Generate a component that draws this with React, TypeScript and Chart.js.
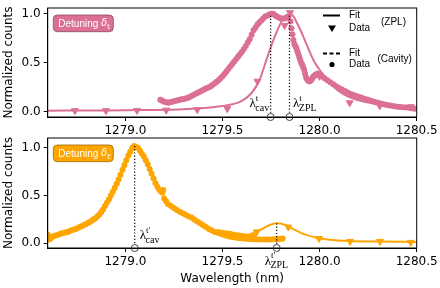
import React, { useEffect, useRef } from "react";
import { Chart, registerables } from "chart.js";
Chart.register(...registerables);

const PINK = "#DB7093";
const ORANGE = "#FFA500";

const xTicks = [1279.0, 1279.5, 1280.0, 1280.5];
const yTicks = [0, 0.5, 1.0];
const X_MIN = 1278.6;
const X_MAX = 1280.5;

// ---------- Top panel (detuning δt) ----------
const topZplX = [1278.74, 1278.9, 1279.06, 1279.21, 1279.37, 1279.525, 1279.68, 1279.82, 1279.848, 1280.0, 1280.155, 1280.31, 1280.47];
const topZplY = [0.01, 0.01, 0.012, 0.015, 0.02, 0.03, 0.31, 0.88, 1.01, 0.36, 0.09, 0.06, 0.05];

const topFitX = [1278.6, 1278.9, 1279.1, 1279.3, 1279.45, 1279.55, 1279.6, 1279.65, 1279.69, 1279.73, 1279.77, 1279.81, 1279.85, 1279.89, 1279.93, 1279.97, 1280.01, 1280.06, 1280.12, 1280.2, 1280.3, 1280.4, 1280.5];
const topFitY = [0.01, 0.012, 0.016, 0.025, 0.045, 0.075, 0.11, 0.19, 0.32, 0.55, 0.77, 0.94, 1.0, 0.88, 0.7, 0.52, 0.4, 0.28, 0.18, 0.115, 0.075, 0.05, 0.035];

const topCavX = [
  1279.18, 1279.19, 1279.2, 1279.21, 1279.22, 1279.23, 1279.24, 1279.25, 1279.26, 1279.27, 1279.28, 1279.29, 1279.3, 1279.31, 1279.32, 1279.33, 1279.34, 1279.35, 1279.36, 1279.37, 1279.38, 1279.39, 1279.4, 1279.41, 1279.42, 1279.43, 1279.44, 1279.45, 1279.46, 1279.47, 1279.48, 1279.49, 1279.5, 1279.51, 1279.52, 1279.53, 1279.54, 1279.55, 1279.56, 1279.57, 1279.58, 1279.59, 1279.6, 1279.61, 1279.62, 1279.63, 1279.64, 1279.65, 1279.66, 1279.67, 1279.68, 1279.69, 1279.7, 1279.71, 1279.72, 1279.73, 1279.74, 1279.75, 1279.76, 1279.77, 1279.78, 1279.79, 1279.8, 1279.81, 1279.82, 1279.83, 1279.84,
  1279.85, 1279.855, 1279.86, 1279.865, 1279.87, 1279.875, 1279.88, 1279.885, 1279.89, 1279.895, 1279.9, 1279.905, 1279.91, 1279.915, 1279.92, 1279.925, 1279.93, 1279.935, 1279.94, 1279.945, 1279.95, 1279.955, 1279.96, 1279.965, 1279.97, 1279.975, 1279.98, 1279.99,
  1280.0, 1280.01, 1280.025, 1280.04, 1280.055, 1280.07, 1280.085, 1280.1, 1280.115, 1280.13, 1280.145, 1280.16, 1280.175, 1280.19, 1280.205, 1280.22, 1280.235, 1280.25, 1280.265, 1280.28, 1280.295, 1280.31, 1280.325, 1280.34, 1280.355, 1280.37, 1280.385, 1280.4, 1280.415, 1280.43, 1280.445, 1280.46, 1280.475, 1280.49,
];
const topCavY = [
  0.12, 0.11, 0.1, 0.095, 0.09, 0.095, 0.1, 0.105, 0.11, 0.115, 0.12, 0.125, 0.13, 0.135, 0.14, 0.15, 0.16, 0.17, 0.18, 0.19, 0.2, 0.21, 0.22, 0.23, 0.24, 0.25, 0.26, 0.275, 0.29, 0.305, 0.32, 0.34, 0.36, 0.385, 0.41, 0.435, 0.46, 0.485, 0.51, 0.535, 0.56, 0.585, 0.61, 0.64, 0.67, 0.705, 0.74, 0.785, 0.83, 0.86, 0.89, 0.91, 0.93, 0.95, 0.97, 0.98, 0.99, 1.0, 1.0, 0.985, 0.97, 0.96, 0.95, 0.95, 0.95, 0.96, 0.97,
  0.92, 0.85, 0.79, 0.73, 0.69, 0.67, 0.65, 0.62, 0.59, 0.56, 0.53, 0.5, 0.48, 0.455, 0.43, 0.39, 0.35, 0.33, 0.32, 0.31, 0.31, 0.32, 0.33, 0.35, 0.36, 0.37, 0.38, 0.39,
  0.375, 0.36, 0.34, 0.32, 0.3, 0.28, 0.26, 0.24, 0.225, 0.21, 0.195, 0.18, 0.17, 0.16, 0.15, 0.14, 0.13, 0.12, 0.11, 0.1, 0.092, 0.085, 0.078, 0.07, 0.065, 0.06, 0.055, 0.05, 0.048, 0.045, 0.042, 0.04, 0.035, 0.03,
];

// ---------- Bottom panel (detuning δt') ----------
const botZplX = [1279.676, 1279.839, 1279.997, 1280.157, 1280.311, 1280.469];
const botZplY = [0.12, 0.17, 0.05, 0.02, 0.02, 0.01];

const botFitX = [1279.55, 1279.6, 1279.65, 1279.7, 1279.74, 1279.78, 1279.82, 1279.86, 1279.91, 1279.97, 1280.05, 1280.15, 1280.3, 1280.5];
const botFitY = [0.045, 0.065, 0.1, 0.145, 0.19, 0.21, 0.195, 0.155, 0.105, 0.065, 0.038, 0.024, 0.018, 0.014];

const botCavX = [
  1278.6, 1278.603, 1278.607, 1278.615, 1278.625, 1278.635, 1278.645, 1278.655, 1278.665, 1278.675, 1278.685, 1278.695, 1278.705, 1278.715, 1278.725, 1278.735, 1278.745, 1278.755, 1278.765, 1278.775, 1278.785, 1278.795, 1278.805, 1278.815, 1278.825, 1278.835, 1278.845, 1278.855, 1278.865, 1278.875, 1278.885, 1278.895, 1278.905, 1278.915, 1278.925, 1278.935, 1278.945, 1278.955, 1278.965, 1278.975, 1278.985, 1278.995, 1279.005, 1279.015, 1279.025, 1279.035, 1279.045,
  1279.055, 1279.065, 1279.075, 1279.085, 1279.095, 1279.105, 1279.115, 1279.125, 1279.135, 1279.145, 1279.155, 1279.165, 1279.175, 1279.185, 1279.19, 1279.195, 1279.2, 1279.21, 1279.22, 1279.235, 1279.25, 1279.265, 1279.28, 1279.295, 1279.31, 1279.325, 1279.34, 1279.355, 1279.37, 1279.385, 1279.4, 1279.415, 1279.43, 1279.445, 1279.46, 1279.475, 1279.49, 1279.505, 1279.52, 1279.535, 1279.55, 1279.565, 1279.58, 1279.595, 1279.61, 1279.625, 1279.64, 1279.655, 1279.67, 1279.685, 1279.7, 1279.715, 1279.73, 1279.745, 1279.76, 1279.775, 1279.79, 1279.8, 1279.81,
  1279.48, 1279.5, 1279.52, 1279.54, 1279.56, 1279.58, 1279.6, 1279.62, 1279.64, 1279.66,
];
const botCavY = [
  0.09, 0.06, 0.04, 0.05, 0.07, 0.08, 0.085, 0.09, 0.1, 0.105, 0.11, 0.115, 0.12, 0.13, 0.14, 0.145, 0.15, 0.16, 0.17, 0.18, 0.19, 0.2, 0.21, 0.22, 0.235, 0.25, 0.26, 0.28, 0.3, 0.325, 0.355, 0.39, 0.425, 0.46, 0.5, 0.54, 0.58, 0.625, 0.67, 0.72, 0.77, 0.82, 0.87, 0.92, 0.96, 1.0, 1.02,
  1.01, 1.0, 0.97, 0.94, 0.91, 0.87, 0.83, 0.78, 0.73, 0.68, 0.63, 0.59, 0.56, 0.54, 0.53, 0.56, 0.47, 0.44, 0.41, 0.39, 0.37, 0.35, 0.33, 0.315, 0.3, 0.285, 0.27, 0.25, 0.23, 0.21, 0.19, 0.17, 0.15, 0.135, 0.12, 0.11, 0.1, 0.09, 0.08, 0.072, 0.065, 0.06, 0.055, 0.052, 0.05, 0.047, 0.045, 0.043, 0.042, 0.041, 0.04, 0.04, 0.04, 0.041, 0.042, 0.044, 0.046, 0.048, 0.05,
  0.12, 0.11, 0.105, 0.1, 0.09, 0.085, 0.08, 0.075, 0.07, 0.07,
];

// marker wavelengths
const lambdaCavTop = 1279.748;
const lambdaZplTop = 1279.845;
const lambdaCavBot = 1279.048;
const lambdaZplBot = 1279.779;

const pts = (xs: number[], ys: number[]) => xs.map((x, i) => ({ x, y: ys[i] }));

type Marker = { lambda: number; top: number; sup: string; sub: string; place: string };

type PanelCfg = {
  color: string;
  edge: string;
  zplX: number[]; zplY: number[];
  fitX: number[]; fitY: number[];
  cavX: number[]; cavY: number[];
  yMin: number; yMax: number;
  padTop: number; xHeight: number;
  xTitle: boolean;
  boxSup: string;
  markers: Marker[];
  legend: boolean;
};

function drawLambda(ctx: CanvasRenderingContext2D, px: number, a: any, m: Marker) {
  ctx.save();
  ctx.fillStyle = "#000";
  ctx.textAlign = "left";
  ctx.textBaseline = "alphabetic";
  ctx.font = '13px "Liberation Serif"';
  const wl = ctx.measureText("λ").width;
  ctx.font = '10px "Liberation Serif"';
  const wsub = ctx.measureText(m.sub).width;
  ctx.font = '9px "Liberation Serif"';
  const wsup = ctx.measureText(m.sup).width;
  const total = wl + Math.max(wsub, wsup);
  let x0 = 0, b = 0;
  if (m.place === "left") { x0 = px - total - 1; b = a.bottom - 10; }
  else if (m.place === "right") { x0 = px + 3.5; b = a.bottom - 10; }
  else if (m.place === "rightInside") { x0 = px + 5; b = a.bottom - 9; }
  else { x0 = px - total / 2; b = a.bottom + 16.5; }
  ctx.font = '13px "Liberation Serif"';
  ctx.fillText("λ", x0, b);
  ctx.font = '9px "Liberation Serif"';
  ctx.fillText(m.sup, x0 + wl, b - 6.5);
  ctx.font = '10px "Liberation Serif"';
  ctx.fillText(m.sub, x0 + wl - 0.5, b + 3.5);
  ctx.restore();
}

function roundRect(ctx: CanvasRenderingContext2D, x: number, y: number, w: number, h: number, r: number) {
  ctx.beginPath();
  ctx.moveTo(x + r, y);
  ctx.lineTo(x + w - r, y);
  ctx.quadraticCurveTo(x + w, y, x + w, y + r);
  ctx.lineTo(x + w, y + h - r);
  ctx.quadraticCurveTo(x + w, y + h, x + w - r, y + h);
  ctx.lineTo(x + r, y + h);
  ctx.quadraticCurveTo(x, y + h, x, y + h - r);
  ctx.lineTo(x, y + r);
  ctx.quadraticCurveTo(x, y, x + r, y);
  ctx.closePath();
}

function makePlugin(cfg: PanelCfg) {
  return {
    id: "panelDecor",
    afterDraw(chart: any) {
      const { ctx, chartArea: a, scales } = chart;
      const xs = scales.x, ys = scales.y;
      ctx.save();
      ctx.strokeStyle = "#000";
      ctx.lineWidth = 1;
      ctx.strokeRect(a.left, a.top, a.right - a.left, a.bottom - a.top);

      for (const m of cfg.markers) {
        const px = xs.getPixelForValue(m.lambda);
        const pyTop = ys.getPixelForValue(m.top);
        ctx.strokeStyle = "#000";
        ctx.lineWidth = 1.2;
        ctx.setLineDash([1.2, 2]);
        ctx.beginPath();
        ctx.moveTo(px, pyTop);
        ctx.lineTo(px, a.bottom - 3.5);
        ctx.stroke();
        ctx.setLineDash([]);
        ctx.beginPath();
        ctx.arc(px, a.bottom, 3.5, 0, Math.PI * 2);
        ctx.lineWidth = 0.9;
        ctx.strokeStyle = "#333";
        ctx.stroke();
        drawLambda(ctx, px, a, m);
      }

      const bx = a.left + 5.6, by = a.top + 7, bw = 60, bh = 16.7;
      roundRect(ctx, bx, by, bw, bh, 4);
      ctx.fillStyle = cfg.color;
      ctx.fill();
      ctx.strokeStyle = cfg.edge;
      ctx.lineWidth = 0.8;
      ctx.stroke();
      ctx.fillStyle = "#fff";
      ctx.textBaseline = "middle";
      ctx.textAlign = "left";
      ctx.font = '10px "Liberation Sans"';
      const t1 = "Detuning ";
      const tx = bx + 5;
      const ty = by + bh / 2 + 0.5;
      ctx.fillText(t1, tx, ty);
      const w1 = ctx.measureText(t1).width;
      ctx.font = 'italic 10px "DejaVu Sans"';
      ctx.fillText("δ", tx + w1, ty - 0.5);
      const w2 = ctx.measureText("δ").width;
      ctx.font = '7px "DejaVu Sans"';
      ctx.fillText(cfg.boxSup, tx + w1 + w2, ty + 3);

      if (cfg.legend) {
        ctx.fillStyle = "#000";
        ctx.strokeStyle = "#000";
        ctx.font = '10px "Liberation Sans"';
        ctx.textBaseline = "middle";
        ctx.lineWidth = 2;
        ctx.beginPath();
        ctx.moveTo(323, 15.5);
        ctx.lineTo(340, 15.5);
        ctx.stroke();
        ctx.fillText("Fit", 349, 15.5);
        ctx.beginPath();
        ctx.moveTo(328, 25.5);
        ctx.lineTo(336, 25.5);
        ctx.lineTo(332, 32);
        ctx.closePath();
        ctx.fill();
        ctx.fillText("Data", 349, 28.5);
        ctx.fillText("(ZPL)", 381, 22);
        ctx.setLineDash([4, 2.5]);
        ctx.beginPath();
        ctx.moveTo(323, 53.5);
        ctx.lineTo(341, 53.5);
        ctx.stroke();
        ctx.setLineDash([]);
        ctx.fillText("Fit", 349, 53);
        ctx.beginPath();
        ctx.arc(332, 64.5, 2.6, 0, Math.PI * 2);
        ctx.fill();
        ctx.fillText("Data", 349, 64.5);
        ctx.fillText("(Cavity)", 377.5, 59);
      }
      ctx.restore();
    },
  };
}

function buildChart(canvas: HTMLCanvasElement, cfg: PanelCfg) {
  const c = cfg.color;
  return new Chart(canvas, {
    type: "scatter",
    data: {
      datasets: [
        {
          label: "ZPL data",
          data: pts(cfg.zplX, cfg.zplY),
          pointStyle: "triangle",
          pointRotation: 180,
          pointRadius: 4,
          backgroundColor: c,
          borderColor: c,
          borderWidth: 1,
          order: 0,
        } as any,
        {
          label: "ZPL fit",
          data: pts(cfg.fitX, cfg.fitY),
          showLine: true,
          pointRadius: 0,
          borderColor: c,
          backgroundColor: c,
          borderWidth: 2,
          cubicInterpolationMode: "monotone",
          order: 1,
        } as any,
        {
          label: "Cavity data",
          data: pts(cfg.cavX, cfg.cavY),
          pointStyle: "circle",
          pointRadius: 3,
          backgroundColor: c,
          borderColor: c,
          borderWidth: 0,
          order: 2,
        } as any,
      ],
    },
    options: {
      responsive: false,
      animation: false,
      events: [],
      layout: { padding: { left: 0, right: 23.3, top: cfg.padTop, bottom: 0 } },
      plugins: { legend: { display: false }, tooltip: { enabled: false } },
      scales: {
        x: {
          type: "linear",
          min: X_MIN,
          max: X_MAX,
          afterBuildTicks: (s: any) => { s.ticks = xTicks.map((v) => ({ value: v })); },
          afterFit: (s: any) => { s.height = cfg.xHeight; s.paddingLeft = 0; s.paddingRight = 0; },
          ticks: {
            color: "#000",
            font: { size: 12, family: '"DejaVu Sans"' },
            callback: (v: any) => Number(v).toFixed(1),
            maxRotation: 0,
            minRotation: 0,
            autoSkip: false,
            padding: 3,
          },
          grid: { drawOnChartArea: false, color: "#000", tickLength: 4 },
          border: { color: "#000" },
          title: {
            display: cfg.xTitle,
            text: "Wavelength (nm)",
            color: "#000",
            font: { size: 12, family: '"DejaVu Sans"' },
            padding: { top: 0, bottom: 2 },
          },
        },
        y: {
          type: "linear",
          min: cfg.yMin,
          max: cfg.yMax,
          afterBuildTicks: (s: any) => { s.ticks = yTicks.map((v) => ({ value: v })); },
          afterFit: (s: any) => { s.width = 47.7; s.paddingTop = 0; s.paddingBottom = 0; },
          ticks: {
            color: "#000",
            font: { size: 12, family: '"DejaVu Sans"' },
            callback: (v: any) => Number(v).toFixed(1),
            padding: 3,
          },
          grid: { drawOnChartArea: false, color: "#000", tickLength: 4 },
          border: { color: "#000" },
          title: {
            display: true,
            text: "Normalized counts",
            color: "#000",
            font: { size: 12, family: '"DejaVu Sans"' },
            padding: { top: 2, bottom: 0 },
          },
        },
      },
    } as any,
    plugins: [makePlugin(cfg) as any],
  });
}

const topCfg: PanelCfg = {
  color: PINK,
  edge: "#8a4a60",
  zplX: topZplX, zplY: topZplY,
  fitX: topFitX, fitY: topFitY,
  cavX: topCavX, cavY: topCavY,
  yMin: -0.055, yMax: 1.058,
  padTop: 8, xHeight: 23,
  xTitle: false,
  boxSup: "t",
  legend: true,
  markers: [
    { lambda: lambdaCavTop, top: 0.98, sup: "t", sub: "cav", place: "left" },
    { lambda: lambdaZplTop, top: 0.98, sup: "t", sub: "ZPL", place: "right" },
  ],
};

const botCfg: PanelCfg = {
  color: ORANGE,
  edge: "#a06a00",
  zplX: botZplX, zplY: botZplY,
  fitX: botFitX, fitY: botFitY,
  cavX: botCavX, cavY: botCavY,
  yMin: -0.049, yMax: 1.104,
  padTop: 6, xHeight: 40,
  xTitle: true,
  boxSup: "t′",
  legend: false,
  markers: [
    { lambda: lambdaCavBot, top: 1.02, sup: "t′", sub: "cav", place: "rightInside" },
    { lambda: lambdaZplBot, top: 0.21, sup: "t′", sub: "ZPL", place: "below" },
  ],
};

export default function App() {
  const topRef = useRef<HTMLCanvasElement | null>(null);
  const botRef = useRef<HTMLCanvasElement | null>(null);
  useEffect(() => {
    const c1 = buildChart(topRef.current!, topCfg);
    const c2 = buildChart(botRef.current!, botCfg);
    return () => { c1.destroy(); c2.destroy(); };
  }, []);
  return (
    <div style={{ position: "fixed", left: 0, top: 0, width: 440, height: 288, background: "#fff" }}>
      <canvas ref={topRef} width={440} height={140} style={{ position: "absolute", left: 0, top: 0 }} />
      <canvas ref={botRef} width={440} height={156} style={{ position: "absolute", left: 0, top: 132 }} />
    </div>
  );
}
